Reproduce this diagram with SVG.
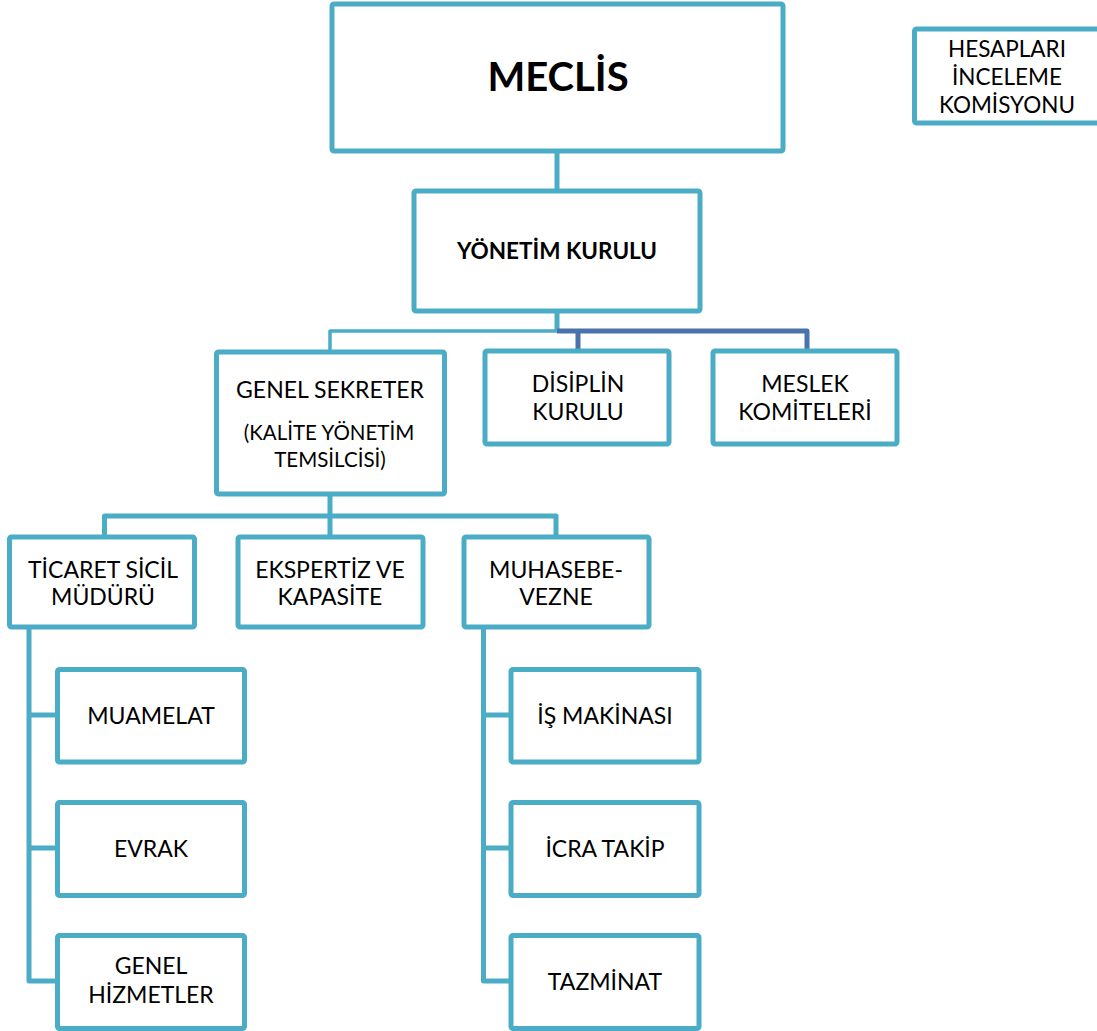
<svg xmlns="http://www.w3.org/2000/svg" width="1097" height="1031" viewBox="0 0 1097 1031">
<style>
.box{fill:#fff;stroke:#4bacc6;stroke-width:5}
.c{fill:none;stroke:#4bacc6;stroke-width:5;stroke-linejoin:round}
.cl{fill:none;stroke:#4bacc6;stroke-width:3.5;stroke-linejoin:round}
.cd{fill:none;stroke:#4a72ad;stroke-width:5;stroke-linejoin:round}
text{font-family:Lato,"Open Sans","Liberation Sans",sans-serif;font-size:23px;fill:#000;text-anchor:middle}
.b{font-weight:bold}
.s{font-size:20.5px}
.h{font-size:22.5px}
</style>
<rect width="1097" height="1031" fill="#fff"/>
<g id="connectors">
<path class="c" d="M557 151V191"/>
<path class="c" d="M557 311V331"/>
<path class="cl" d="M557 331H330V352"/>
<path class="cd" d="M557 331H807V351M578 331V351"/>
<path class="c" d="M330 494V516M104.5 537V516H556V537M330 516V537"/>
<path class="c" d="M29 627V981H57.5M29 715H57.5M29 848H57.5"/>
<path class="c" d="M483.5 627V981H511M483.5 715H511M483.5 848H511"/>
</g>
<g id="meclis"><rect class="box" x="332" y="4" width="451" height="147" rx="2"/><text class="b" x="558" y="91" style="font-size:40px">MECLİS</text></g>
<g id="hesaplari"><rect class="box" x="914.5" y="29" width="200" height="94" rx="2"/><text class="h" x="1007" y="57">HESAPLARI</text><text class="h" x="1007" y="85">İNCELEME</text><text class="h" x="1007" y="113">KOMİSYONU</text></g>
<g id="yonetim"><rect class="box" x="414" y="191" width="286" height="120" rx="2"/><text class="b" x="557" y="259" style="font-size:22.5px">YÖNETİM KURULU</text></g>
<g id="genel-sekreter"><rect class="box" x="216.5" y="352" width="228" height="142" rx="2"/><text x="330" y="398">GENEL SEKRETER</text><text class="s" x="329" y="440">(KALİTE YÖNETİM</text><text class="s" x="330" y="467">TEMSİLCİSİ)</text></g>
<g id="disiplin"><rect class="box" x="485" y="351" width="184" height="93" rx="2"/><text x="578" y="392">DİSİPLİN</text><text x="578" y="420">KURULU</text></g>
<g id="meslek"><rect class="box" x="713" y="351" width="184" height="93" rx="2"/><text x="805" y="392">MESLEK</text><text x="805" y="420">KOMİTELERİ</text></g>
<g id="ticaret"><rect class="box" x="9.5" y="537" width="185" height="90" rx="2"/><text x="103" y="578">TİCARET SİCİL</text><text x="103" y="605">MÜDÜRÜ</text></g>
<g id="ekspertiz"><rect class="box" x="238" y="537" width="185" height="90" rx="2"/><text x="330" y="578">EKSPERTİZ VE</text><text x="330" y="605">KAPASİTE</text></g>
<g id="muhasebe"><rect class="box" x="464" y="537" width="185" height="90" rx="2"/><text x="556" y="578">MUHASEBE-</text><text x="556" y="605">VEZNE</text></g>
<g id="muamelat"><rect class="box" x="57.5" y="669.5" width="187" height="92.5" rx="2"/><text x="151" y="724">MUAMELAT</text></g>
<g id="evrak"><rect class="box" x="57.5" y="802.5" width="187" height="93" rx="2"/><text x="151" y="857">EVRAK</text></g>
<g id="genel-hizmetler"><rect class="box" x="57.5" y="935.5" width="187" height="93" rx="2"/><text x="151" y="974">GENEL</text><text x="151" y="1003">HİZMETLER</text></g>
<g id="is-makinasi"><rect class="box" x="511" y="669.5" width="188" height="92.5" rx="2"/><text x="605" y="724">İŞ MAKİNASI</text></g>
<g id="icra-takip"><rect class="box" x="511" y="802.5" width="188" height="93" rx="2"/><text x="605" y="857">İCRA TAKİP</text></g>
<g id="tazminat"><rect class="box" x="511" y="935.5" width="188" height="93" rx="2"/><text x="605" y="990">TAZMİNAT</text></g>
</svg>
